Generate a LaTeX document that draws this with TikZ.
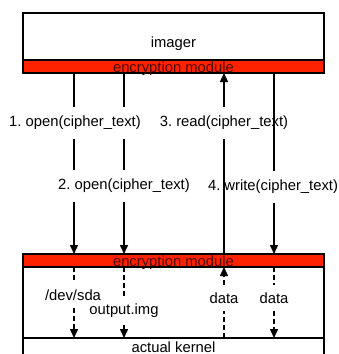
\documentclass[tikz,border=0pt]{standalone}
\usepackage{fontspec}
\setmainfont{Liberation Sans}
\usetikzlibrary{arrows.meta, positioning}
\definecolor{bandred}{RGB}{255,34,0}
\definecolor{bandtext}{RGB}{80,10,0}
\frenchspacing

\begin{document}
\begin{tikzpicture}[
        x=1pt, y=-1pt,
        font=\fontsize{14.8}{17}\selectfont,
        >={Triangle[length=9pt, width=8pt]},
        box/.style={draw, line width=1.5pt, outer sep=0pt, inner sep=0pt, minimum width=301pt},
        band/.style={draw, line width=1.5pt, outer sep=0pt, inner sep=0pt, fill=bandred, text=bandtext, minimum width=301pt, minimum height=13pt, text height=11pt, text depth=0pt},
        call/.style={inner xsep=1pt, inner ysep=9pt},
        fname/.style={inner xsep=1pt, inner ysep=7pt},
        flow/.style={line width=1.5pt},
        sub/.style={line width=1.5pt, dash pattern=on 5pt off 3pt}
    ]
        \useasboundingbox (0,0) rectangle (339,354);

        % --- Imager ---
        \node[box, minimum height=47pt, text height=22pt, text depth=0pt] (imager) at (173.5,36.5) {imager};
        \node[band, below=0pt of imager] (encup) {encryption module};

        % --- Kernel ---
        \node[band] (encdown) at (173.5,260.5) {encryption module};
        \node[box, minimum height=71pt, below=0pt of encdown] (sys) {};
        \node[box, minimum height=18pt, below=0pt of sys] (kernel) {actual kernel};

        % columns
        \coordinate (c1) at (74,0);
        \coordinate (c2) at (124,0);
        \coordinate (c3) at (224,0);
        \coordinate (c4) at (274,0);

        % --- Calls ---
        \node[call] (open1) at (75,123) {1. open(cipher\_text)};
        \node[call] (open2) at (124,186) {2. open(cipher\_text)};
        \node[call] (read3) at (224,123) {3. read(cipher\_text)};
        \node[call] (write4) at (273,187) {4. write(cipher\_text)};

        \draw[flow] (c1 |- encup.south) -- (c1 |- open1.north);
        \draw[flow] (c1 |- open1.south) -- (c1 |- open2.north);
        \draw[flow,->] (c1 |- open2.south) -- (c1 |- encdown.north);
        \draw[flow] (c2 |- encup.south) -- (c2 |- open1.north);
        \draw[flow] (c2 |- open1.south) -- (c2 |- open2.north);
        \draw[flow,->] (c2 |- open2.south) -- (c2 |- encdown.north);
        \draw[flow] (c3 |- encdown.north) -- (c3 |- read3.south);
        \draw[flow,->] (c3 |- read3.north) -- (c3 |- encup.south);
        \draw[flow] (c4 |- encup.south) -- (c4 |- write4.north);
        \draw[flow,->] (c4 |- write4.south) -- (c4 |- encdown.north);

        % --- Files inside the kernel ---
        \node[fname] (sda) at (73,295) {/dev/sda};
        \node[fname] (img) at (124,311) {output.img};
        \node[fname] (data3) at (224,298) {data};
        \node[fname] (data4) at (274,298) {data};

        \draw[sub] (c1 |- encdown.south) -- (c1 |- sda.north);
        \draw[sub,->] (c1 |- sda.south) -- (c1 |- kernel.north);
        \draw[sub] (c2 |- encdown.south) -- (c2 |- img.north);
        \draw[sub,->] (c2 |- img.south) -- (c2 |- kernel.north);
        \draw[sub] (c3 |- kernel.north) -- (c3 |- data3.south);
        \draw[sub,->] (c3 |- data3.north) -- (c3 |- encdown.south);
        \draw[sub] (c4 |- encdown.south) -- (c4 |- data4.north);
        \draw[sub,->] (c4 |- data4.south) -- (c4 |- kernel.north);
    \end{tikzpicture}
\end{document}
